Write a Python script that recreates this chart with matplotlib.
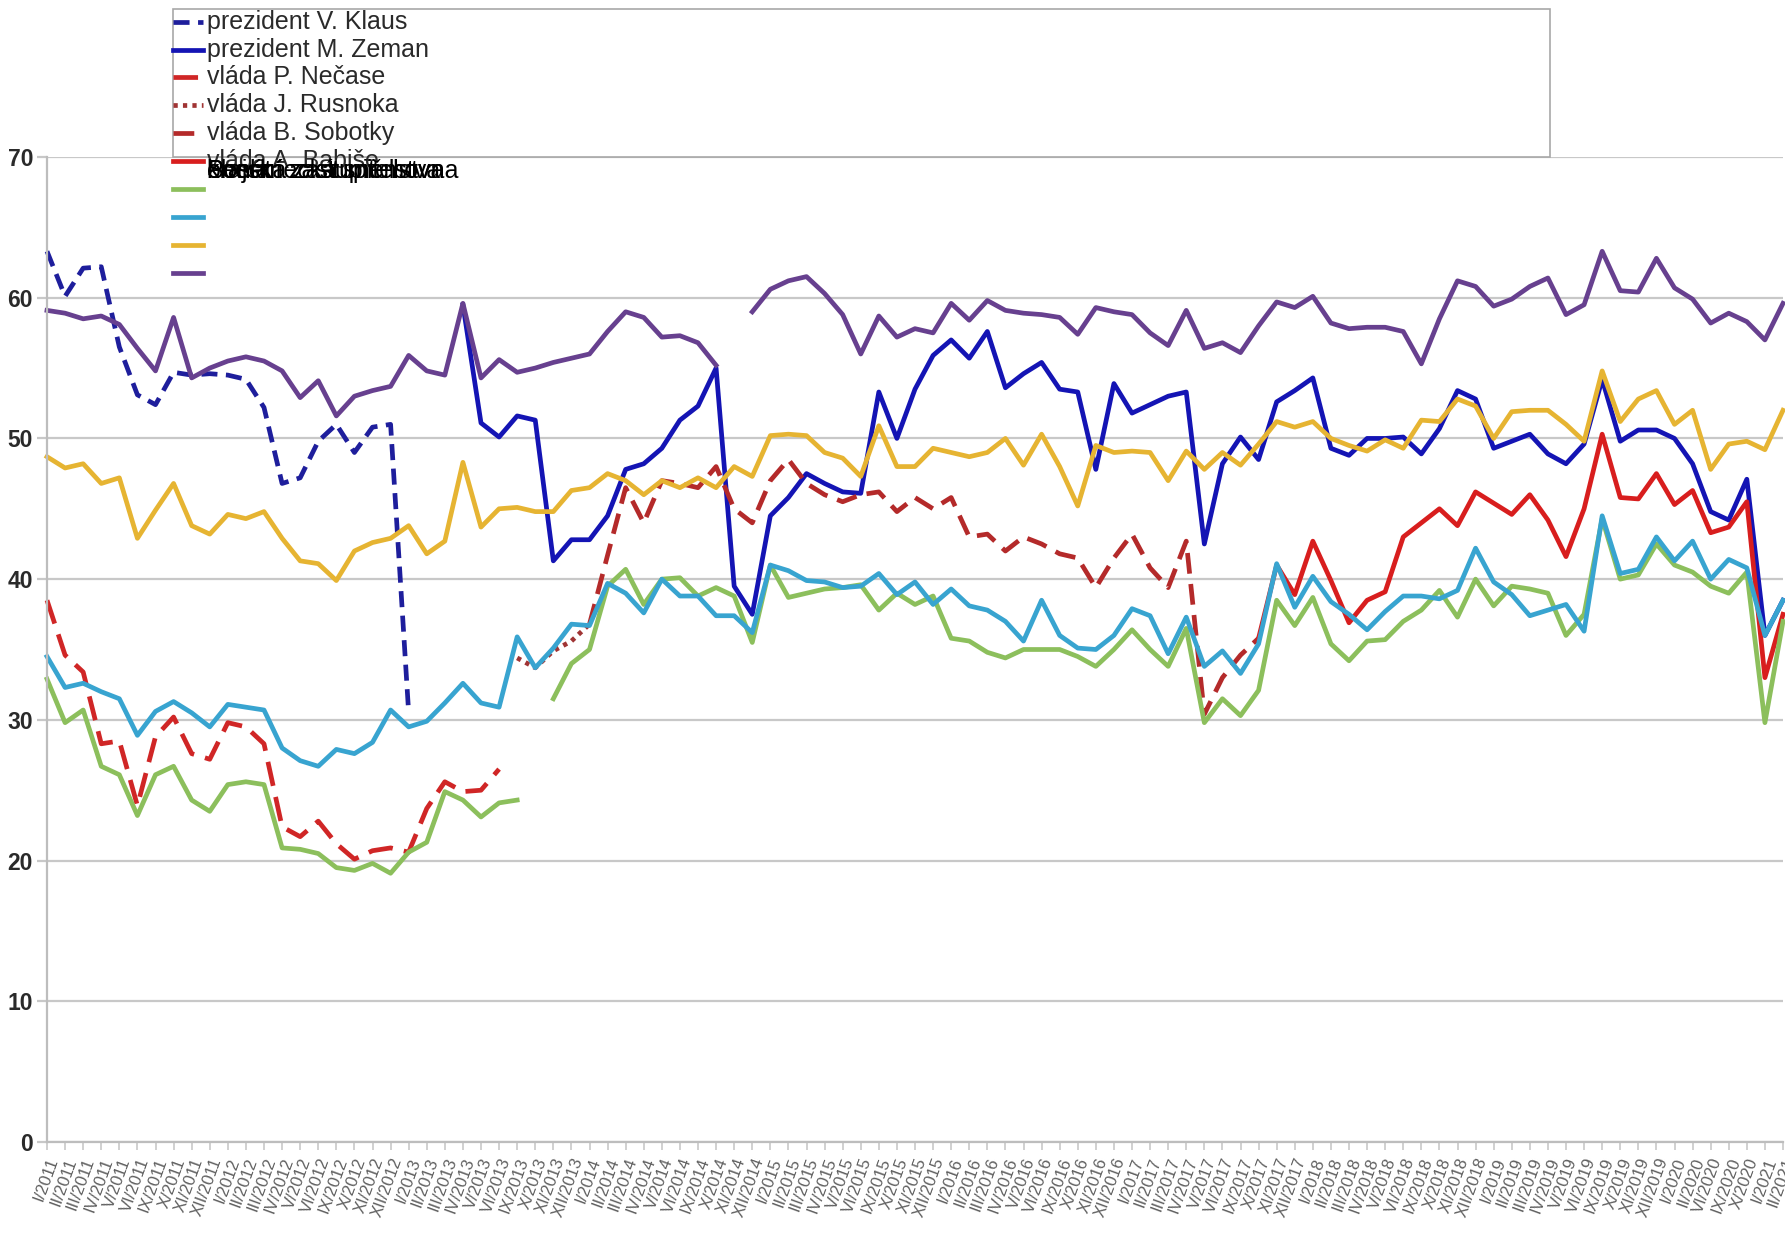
import numpy as np
import matplotlib
matplotlib.use('Agg')
import matplotlib.pyplot as plt
from matplotlib.lines import Line2D
from matplotlib.patches import Rectangle

plt.rcParams['font.family'] = ['Liberation Sans', 'DejaVu Sans']
nan = np.nan

# months surveyed (no July/August)
months = ['I', 'II', 'III', 'IV', 'V', 'VI', 'IX', 'X', 'XI', 'XII']
labels = [m + '/' + str(y) for y in range(2011, 2020) for m in months]
labels += ['I/2020', 'II/2020', 'VI/2020', 'IX/2020', 'X/2020', 'I/2021', 'II/2021']

klaus = [63.3, 60.1, 62.1, 62.2, 56.5, 53.1, 52.4, 54.7, 54.5, 54.6, 54.5, 54.2, 52.2, 46.8,
         47.2, 49.8, 51.0, 49.0, 50.8, 51.0, 30.5] + [nan] * 76

zeman = [nan] * 23 + [59.5, 51.1, 50.1, 51.6, 51.3, 41.3, 42.8, 42.8, 44.5, 47.8, 48.2, 49.3,
         51.3, 52.3, 55.0, 39.5, 37.5, 44.5, 45.8, 47.5, 46.8, 46.2, 46.1, 53.3, 50.0, 53.5,
         55.9, 57.0, 55.7, 57.6, 53.6, 54.6, 55.4, 53.5, 53.3, 47.8, 53.9, 51.8, 52.4, 53.0,
         53.3, 42.5, 48.2, 50.1, 48.5, 52.6, 53.4, 54.3, 49.3, 48.8, 50.0, 50.0, 50.1, 48.9,
         50.7, 53.4, 52.8, 49.3, 49.8, 50.3, 48.9, 48.2, 49.6, 54.2, 49.8, 50.6, 50.6, 50.0,
         48.2, 44.8, 44.2, 47.1, 36.0, 38.5]

necas = [38.5, 34.6, 33.4, 28.3, 28.5, 23.9, 28.8, 30.2, 27.6, 27.2, 29.8, 29.5, 28.3, 22.4,
         21.7, 22.8, 21.2, 20.1, 20.7, 20.9, 20.6, 23.7, 25.6, 24.9, 25.0, 26.5] + [nan] * 71

rusnok = [nan] * 26 + [34.4, 33.7, 34.9, 35.6, 36.8] + [nan] * 66

sobotka = [nan] * 30 + [36.8, 41.7, 46.5, 44.0, 47.0, 46.8, 46.5, 48.0, 45.0, 44.0, 47.0, 48.5,
           46.8, 46.0, 45.5, 46.0, 46.2, 44.8, 45.8, 45.0, 45.8, 43.0, 43.2, 42.0, 43.0, 42.5,
           41.8, 41.5, 39.4, 41.5, 43.2, 40.8, 39.4, 42.7, 30.4, 33.0, 34.6, 35.8] + [nan] * 29

babis = [nan] * 67 + [35.8, 41.0, 38.9, 42.7, 39.9, 36.9, 38.5, 39.1, 43.0, 44.0, 45.0, 43.8,
         46.2, 45.4, 44.6, 46.0, 44.2, 41.6, 45.0, 50.3, 45.8, 45.7, 47.5, 45.3, 46.3, 43.3,
         43.7, 45.5, 33.0, 37.5]

snemovna = [32.9, 29.8, 30.7, 26.7, 26.1, 23.2, 26.1, 26.7, 24.3, 23.5, 25.4, 25.6, 25.4, 20.9,
            20.8, 20.5, 19.5, 19.3, 19.8, 19.1, 20.6, 21.3, 24.9, 24.3, 23.1, 24.1, 24.3, nan,
            31.5, 34.0, 35.0, 39.5, 40.7, 38.2, 40.0, 40.1, 38.8, 39.4, 38.8, 35.5,
            41.0, 38.7, 39.0, 39.3, 39.4, 39.6, 37.8, 39.0, 38.2, 38.8, 35.8, 35.6, 34.8, 34.4,
            35.0, 35.0, 35.0, 34.5, 33.8, 35.0, 36.4, 35.0, 33.8, 36.5, 29.8, 31.5, 30.3, 32.1,
            38.5, 36.7, 38.7, 35.4, 34.2, 35.6, 35.7, 37.0, 37.8, 39.2, 37.3, 40.0, 38.1, 39.5,
            39.3, 39.0, 36.0, 37.5, 44.3, 40.0, 40.3, 42.5, 41.0, 40.5, 39.5, 39.0, 40.5, 29.8,
            37.0]

senat = [34.5, 32.3, 32.6, 32.0, 31.5, 28.9, 30.6, 31.3, 30.5, 29.5, 31.1, 30.9, 30.7, 28.0,
         27.1, 26.7, 27.9, 27.6, 28.4, 30.7, 29.5, 29.9, 31.2, 32.6, 31.2, 30.9, 35.9, 33.7,
         35.1, 36.8, 36.7, 39.7, 39.0, 37.6, 40.0, 38.8, 38.8, 37.4, 37.4, 36.2, 41.0, 40.6,
         39.9, 39.8, 39.4, 39.5, 40.4, 38.9, 39.8, 38.2, 39.3, 38.1, 37.8, 37.0, 35.6, 38.5,
         36.0, 35.1, 35.0, 36.0, 37.9, 37.4, 34.7, 37.3, 33.8, 34.9, 33.3, 35.4, 41.1, 38.0,
         40.2, 38.4, 37.5, 36.4, 37.7, 38.8, 38.8, 38.6, 39.2, 42.2, 39.8, 38.9, 37.4, 37.8,
         38.2, 36.3, 44.5, 40.4, 40.7, 43.0, 41.3, 42.7, 40.0, 41.4, 40.8, 36.0, 38.5]

kraje = [48.7, 47.9, 48.2, 46.8, 47.2, 42.9, 44.9, 46.8, 43.8, 43.2, 44.6, 44.3, 44.8, 42.9,
         41.3, 41.1, 39.9, 42.0, 42.6, 42.9, 43.8, 41.8, 42.7, 48.3, 43.7, 45.0, 45.1, 44.8,
         44.8, 46.3, 46.5, 47.5, 47.0, 46.0, 47.0, 46.5, 47.2, 46.5, 48.0, 47.3, 50.2, 50.3,
         50.2, 49.0, 48.6, 47.3, 50.9, 48.0, 48.0, 49.3, 49.0, 48.7, 49.0, 50.0, 48.1, 50.3,
         48.0, 45.2, 49.5, 49.0, 49.1, 49.0, 47.0, 49.1, 47.8, 49.0, 48.1, 49.6, 51.2, 50.8,
         51.2, 50.0, 49.5, 49.1, 49.9, 49.3, 51.3, 51.2, 52.8, 52.3, 50.0, 51.9, 52.0, 52.0,
         51.0, 49.8, 54.8, 51.2, 52.8, 53.4, 51.0, 52.0, 47.8, 49.6, 49.8, 49.2, 52.0]

obce = [59.1, 58.9, 58.5, 58.7, 58.1, 56.4, 54.8, 58.6, 54.3, 55.0, 55.5, 55.8, 55.5, 54.8,
        52.9, 54.1, 51.6, 53.0, 53.4, 53.7, 55.9, 54.8, 54.5, 59.6, 54.3, 55.6, 54.7, 55.0,
        55.4, 55.7, 56.0, 57.6, 59.0, 58.6, 57.2, 57.3, 56.8, 55.2, nan, 59.0, 60.6, 61.2,
        61.5, 60.3, 58.8, 56.0, 58.7, 57.2, 57.8, 57.5, 59.6, 58.4, 59.8, 59.1, 58.9, 58.8,
        58.6, 57.4, 59.3, 59.0, 58.8, 57.5, 56.6, 59.1, 56.4, 56.8, 56.1, 58.0, 59.7, 59.3,
        60.1, 58.2, 57.8, 57.9, 57.9, 57.6, 55.3, 58.5, 61.2, 60.8, 59.4, 59.9, 60.8, 61.4,
        58.8, 59.5, 63.3, 60.5, 60.4, 62.8, 60.7, 59.9, 58.2, 58.9, 58.3, 57.0, 59.6]

series = [
    ('prezident V. Klaus', klaus, '#1e1e9c', (0, (3.4, 1.8))),
    ('prezident M. Zeman', zeman, '#1414b4', '-'),
    ('vláda P. Nečase', necas, '#d02626', (0, (5.2, 2.4))),
    ('vláda J. Rusnoka', rusnok, '#a03434', (0, (0.9, 1.1))),
    ('vláda B. Sobotky', sobotka, '#b42a2a', (0, (4.4, 2.2))),
    ('vláda A. Babiše', babis, '#d81e1e', '-'),
    ('Poslanecká sněmovna', snemovna, '#8cbf5c', '-'),
    ('Senát', senat, '#38a4d0', '-'),
    ('krajská zastupitelstva', kraje, '#e6b432', '-'),
    ('obecní zastupitelstva', obce, '#67408f', '-'),
]

W, H = 1785, 1233
fig = plt.figure(figsize=(W / 100, H / 100), dpi=100)
ax = fig.add_axes([47 / W, 1 - 1142 / H, (1783 - 47) / W, (1142 - 157) / H])

x = np.arange(len(labels))
for name, vals, col, ls in series:
    ax.plot(x, np.array(vals, dtype=float), color=col, lw=3.4, linestyle=ls,
            solid_joinstyle='round', clip_on=False)

ax.set_xlim(0, len(labels) - 1)
ax.set_ylim(0, 70)
ax.set_yticks(range(0, 71, 10))
ax.set_xticks(x)
ax.set_xticklabels(labels, rotation=70, ha='right', rotation_mode='anchor')
ax.grid(axis='y', color='#c8c8c8', lw=1.6)
ax.set_axisbelow(True)
for s in ['top', 'right']:
    ax.spines[s].set_visible(False)
for s in ['left', 'bottom']:
    ax.spines[s].set_color('#bdbdbd')
    ax.spines[s].set_linewidth(1.6)
ax.tick_params(axis='y', length=7, color='#c8c8c8', width=1.6, labelsize=16.5,
               labelcolor='#2a2a2a', pad=3)
ax.tick_params(axis='x', length=6, color='#c8c8c8', width=1.2, labelsize=12,
               labelcolor='#606060', pad=4)
for t in ax.get_yticklabels():
    t.set_fontweight('bold')

# legend drawn like the original (box too small, last labels piled up)
fig.patches.append(Rectangle((173 / W, 1 - 157 / H), (1550 - 173) / W, (157 - 9) / H,
                             transform=fig.transFigure, fill=False, ec='#a8a8a8', lw=1.2))
for k, (name, vals, col, ls) in enumerate(series):
    yp = 1 - (21.6 + 27.9 * k) / H
    fig.lines.append(Line2D([173 / W, 203 / W], [yp, yp], transform=fig.transFigure,
                            color=col, lw=3.4, linestyle=ls))
    if k < 6:
        fig.text(207 / W, yp, name, fontsize=18, color='#2a2a2a', va='center', ha='left')
    else:
        fig.text(207 / W, 1 - 171 / H, name, fontsize=18, color='black', va='center',
                 ha='left')

fig.savefig('out.png', dpi=100, facecolor='white')
